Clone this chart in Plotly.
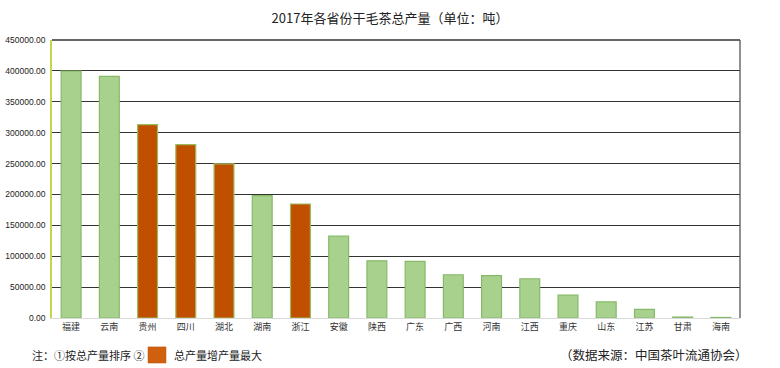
import plotly.graph_objects as go

provinces = ["福建", "云南", "贵州", "四川", "湖北", "湖南", "浙江", "安徽", "陕西",
             "广东", "广西", "河南", "江西", "重庆", "山东", "江苏", "甘肃", "海南"]
output_tons = [399500, 391000, 313000, 280500, 249500, 198000, 184500, 132500, 92500,
               91500, 70000, 68500, 63500, 37000, 26000, 14000, 1500, 900]
top_increase = [False, False, True, True, True, False, True, False, False,
                False, False, False, False, False, False, False, False, False]

GREEN = "#a9d18e"
GREEN_LINE = "#86b96a"
ORANGE = "#c04f00"
ORANGE_LINE = "#9bbb59"

fig = go.Figure()
fig.add_trace(go.Bar(
    x=provinces, y=output_tons,
    marker=dict(color=[ORANGE if t else GREEN for t in top_increase],
                line=dict(color=[ORANGE_LINE if t else GREEN_LINE for t in top_increase], width=1.2)),
    width=0.52, hoverinfo="x+y",
))

fig.update_layout(
    width=780, height=368,
    margin=dict(l=52, r=40, t=40, b=50),
    paper_bgcolor="white", plot_bgcolor="white",
    showlegend=False,
    font=dict(family="Noto Sans CJK SC, sans-serif", color="#222"),
    title=dict(text="2017年各省份干毛茶总产量（单位：吨）", x=0.5, xanchor="center",
               yref="container", y=1 - 18 / 368, yanchor="middle",
               font=dict(size=13, color="#222")),
    xaxis=dict(showgrid=False, showline=True, linecolor="#d9d9d9", linewidth=1,
               tickfont=dict(size=9, color="#333"), ticks="", fixedrange=True,
               automargin=False),
    yaxis=dict(range=[0, 450000], dtick=50000, tickformat=".2f",
               showgrid=True, gridcolor="#333333", gridwidth=1.3,
               showline=True, linecolor="#c3d84a", linewidth=1.5,
               zeroline=False, ticks="", automargin=False, ticklabelstandoff=3,
               tickfont=dict(size=8.5, color="#222",
                             family="Liberation Sans, Arial, sans-serif")),
)

# top and right border lines
fig.add_shape(type="line", xref="paper", yref="paper", x0=0, x1=1, y0=1, y1=1,
              line=dict(color="#333", width=1.3), layer="below")
fig.add_shape(type="line", xref="paper", yref="paper", x0=1, x1=1, y0=0, y1=1,
              line=dict(color="#555", width=1.3))

# notes
fig.add_annotation(text="注：①按总产量排序 ②", xref="paper", yref="paper",
                   x=-0.032, y=-0.133, xanchor="left", yanchor="middle", showarrow=False,
                   font=dict(size=11, color="#222"))
fig.add_shape(type="rect", xref="paper", yref="paper",
              x0=0.1395, x1=0.1657, y0=-0.104, y1=-0.162,
              fillcolor="#d0600f", line=dict(color="#b8560f", width=0.5))
fig.add_annotation(text="总产量增产量最大", xref="paper", yref="paper",
                   x=0.1744, y=-0.133, xanchor="left", yanchor="middle", showarrow=False,
                   font=dict(size=11, color="#222"))
fig.add_annotation(text="（数据来源：中国茶叶流通协会）", xref="paper", yref="paper",
                   x=1.0145, y=-0.133, xanchor="right", yanchor="middle", showarrow=False,
                   font=dict(size=12.5, color="#222"))

fig.write_html("out.html", config={"displayModeBar": False},
               post_script="document.body.style.margin='0';document.body.style.overflow='hidden';")
